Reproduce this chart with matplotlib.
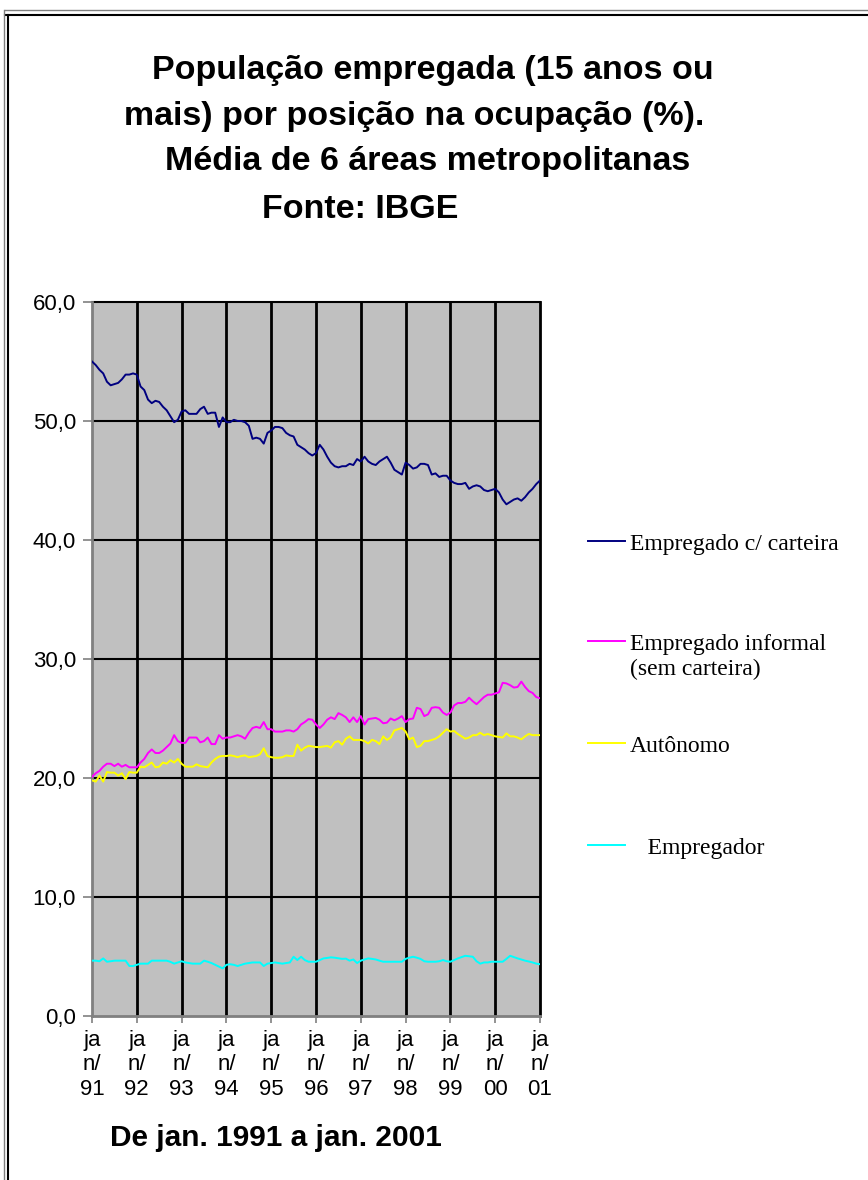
import matplotlib
matplotlib.use("Agg")
import matplotlib.pyplot as plt
from matplotlib.lines import Line2D

# meses de jan/91 a jan/01 (0..120)
meses = list(range(121))

carteira = [55.0, 54.7, 54.3, 54.0, 53.3, 53.0, 53.1, 53.2, 53.5, 53.9, 53.9, 54.0,
            53.9, 52.9, 52.6, 51.8, 51.5, 51.7, 51.6, 51.2, 50.9, 50.4, 49.9, 50.1,
            50.8, 50.9, 50.6, 50.6, 50.6, 51.0, 51.2, 50.6, 50.7, 50.7, 49.5, 50.3,
            49.9, 49.9, 50.1, 50.0, 50.0, 49.9, 49.6, 48.5, 48.6, 48.5, 48.1, 49.0,
            49.2, 49.5, 49.5, 49.4, 49.0, 48.8, 48.7, 48.0, 47.8, 47.6, 47.3, 47.1,
            47.3, 48.0, 47.6, 47.0, 46.5, 46.2, 46.1, 46.2, 46.2, 46.4, 46.3, 46.8,
            46.6, 47.0, 46.6, 46.4, 46.3, 46.6, 46.8, 47.0, 46.5, 45.9, 45.7, 45.5,
            46.5, 46.3, 46.0, 46.1, 46.4, 46.4, 46.3, 45.5, 45.6, 45.3, 45.4, 45.4,
            45.0, 44.8, 44.7, 44.7, 44.8, 44.3, 44.5, 44.6, 44.5, 44.2, 44.1, 44.2,
            44.3, 44.0, 43.4, 43.0, 43.2, 43.4, 43.5, 43.3, 43.6, 44.0, 44.3, 44.7,
            45.0]

informal = [20.1, 20.4, 20.6, 20.95, 21.2, 21.2, 21.0, 21.2, 20.95, 21.1, 20.9, 20.9,
            20.9, 21.3, 21.6, 22.1, 22.4, 22.1, 22.1, 22.3, 22.6, 22.9, 23.6, 23.1,
            22.95, 22.95, 23.4, 23.4, 23.4, 23.0, 23.1, 23.4, 22.85, 22.85, 23.6, 23.3,
            23.4, 23.4, 23.5, 23.6, 23.5, 23.3, 23.8, 24.2, 24.3, 24.2, 24.7, 24.1,
            24.1, 23.9, 23.9, 23.9, 24.0, 24.0, 23.9, 24.1, 24.5, 24.7, 24.95, 24.9,
            24.5, 24.2, 24.5, 24.9, 25.1, 24.95, 25.45, 25.3, 25.1, 24.7, 25.1, 24.7,
            25.2, 24.5, 24.95, 25.0, 25.05, 24.9, 24.6, 24.65, 25.0, 24.85, 25.0, 25.2,
            24.7, 24.95, 25.0, 25.9, 25.8, 25.2, 25.35, 25.9, 25.95, 25.9, 25.5, 25.3,
            25.5, 26.1, 26.3, 26.3, 26.4, 26.75, 26.45, 26.2, 26.5, 26.8, 27.0, 27.0,
            27.1, 27.2, 28.0, 27.95, 27.8, 27.6, 27.65, 28.1, 27.65, 27.3, 27.15, 26.8,
            26.7]

autonomo = [19.8, 19.7, 20.2, 19.7, 20.5, 20.45, 20.45, 20.2, 20.4, 19.9, 20.5, 20.45,
            20.45, 20.95, 20.9, 21.1, 21.3, 20.9, 20.95, 21.3, 21.2, 21.5, 21.3, 21.6,
            21.2, 20.95, 20.95, 20.95, 21.15, 21.0, 20.95, 20.9, 21.3, 21.6, 21.8, 21.85,
            21.85, 21.9, 21.85, 21.75, 21.85, 21.9, 21.75, 21.8, 21.85, 22.0, 22.5, 21.85,
            21.75, 21.7, 21.7, 21.75, 21.9, 21.85, 21.85, 22.8, 22.3, 22.55, 22.7, 22.65,
            22.6, 22.6, 22.65, 22.7, 22.55, 23.0, 23.1, 22.8, 23.3, 23.5, 23.2, 23.2,
            23.2, 23.1, 22.9, 23.2, 23.1, 22.85, 23.5, 23.2, 23.4, 24.0, 24.1, 24.2,
            23.9, 23.25, 23.4, 22.6, 22.7, 23.1, 23.1, 23.2, 23.3, 23.5, 23.8, 24.1,
            23.9, 23.95, 23.7, 23.5, 23.3, 23.4, 23.6, 23.6, 23.8, 23.6, 23.7, 23.6,
            23.5, 23.45, 23.4, 23.75, 23.5, 23.5, 23.4, 23.25, 23.5, 23.7, 23.6, 23.6,
            23.6]

empregador = [4.65, 4.65, 4.6, 4.84, 4.56, 4.6, 4.65, 4.65, 4.65, 4.65, 4.2, 4.2,
              4.3, 4.4, 4.4, 4.4, 4.65, 4.65, 4.65, 4.65, 4.65, 4.55, 4.4, 4.5,
              4.6, 4.5, 4.45, 4.4, 4.4, 4.4, 4.65, 4.56, 4.45, 4.3, 4.15, 4.0,
              4.3, 4.35, 4.3, 4.2, 4.3, 4.4, 4.45, 4.5, 4.5, 4.5, 4.2, 4.4,
              4.45, 4.5, 4.45, 4.4, 4.45, 4.5, 4.98, 4.7, 4.98, 4.7, 4.56, 4.56,
              4.56, 4.7, 4.84, 4.88, 4.93, 4.9, 4.85, 4.8, 4.82, 4.65, 4.75, 4.45,
              4.65, 4.75, 4.84, 4.8, 4.75, 4.65, 4.56, 4.56, 4.56, 4.56, 4.56, 4.56,
              4.8, 4.9, 4.98, 4.9, 4.8, 4.6, 4.56, 4.56, 4.56, 4.6, 4.7, 4.6,
              4.56, 4.7, 4.84, 4.95, 5.06, 5.02, 4.98, 4.6, 4.4, 4.5, 4.5, 4.56,
              4.56, 4.56, 4.56, 4.8, 5.06, 4.95, 4.84, 4.75, 4.65, 4.58, 4.5, 4.4,
              4.35]

series = [carteira, informal, autonomo, empregador]
rotulos = ["Empregado c/ carteira", "Empregado informal\n(sem carteira)",
           "Autônomo", "   Empregador"]
cores = ["#000080", "#ff00ff", "#ffff00", "#00ffff"]

anos = ["91", "92", "93", "94", "95", "96", "97", "98", "99", "00", "01"]
y_ticks = [0, 10, 20, 30, 40, 50, 60]

plt.rcParams['font.family'] = ['Liberation Sans', 'DejaVu Sans']

fig = plt.figure(figsize=(8.68, 11.8), dpi=100)
ax = fig.add_axes([92 / 868, 1 - 1016 / 1180, 448 / 868, 714 / 1180])
ax.set_facecolor("#c0c0c0")

# grade (o eixo 0 fica cinza)
for yv in y_ticks[1:]:
    ax.axhline(yv, color="black", lw=1.5, zorder=1, clip_on=False)
for xv in range(12, 121, 12):
    ax.axvline(xv, color="black", lw=2, zorder=1, clip_on=False)

for s, c in zip(series, cores):
    ax.plot(meses, s, color=c, lw=1.4, zorder=3)

ax.set_xlim(0, 120)
ax.set_ylim(0, 60)
ax.set_yticks(y_ticks)
ax.set_yticklabels([f"{v},0" for v in y_ticks], fontsize=16)
ax.set_xticks(range(0, 121, 12))
ax.set_xticklabels([f"ja\nn/\n{a}" for a in anos], fontsize=16, linespacing=1.22)
ax.tick_params(axis="y", length=6.5, width=1.2, color="#808080", pad=5)
ax.tick_params(axis="x", length=5, width=1.2, color="#808080", pad=5)
for sp in ["top", "right"]:
    ax.spines[sp].set_visible(False)
for sp in ["left", "bottom"]:
    ax.spines[sp].set_color("#808080")
    ax.spines[sp].set_linewidth(2)

# títulos
fig.text(152 / 868, 1 - 71 / 1180, "População empregada (15 anos ou",
         fontsize=24.5, fontweight="bold", va="center")
fig.text(124 / 868, 1 - 116 / 1180, "mais) por posição na ocupação (%).",
         fontsize=24.5, fontweight="bold", va="center")
fig.text(165 / 868, 1 - 162 / 1180, "Média de 6 áreas metropolitanas",
         fontsize=24.5, fontweight="bold", va="center")
fig.text(262 / 868, 1 - 209 / 1180, "Fonte: IBGE",
         fontsize=24.5, fontweight="bold", va="center")
fig.text(110 / 868, 1 - 1138 / 1180, "De jan. 1991 a jan. 2001",
         fontsize=21.5, fontweight="bold", va="center")

# legenda
leg_y = [541, 641, 743, 845]
for lab, c, yy in zip(rotulos, cores, leg_y):
    yf = 1 - yy / 1180
    fig.add_artist(Line2D([588 / 868, 625 / 868], [yf, yf], color=c, lw=1.4))
    fig.text(630 / 868, 1 - (yy - 7) / 1180, lab, fontsize=17, va="top",
             family=["Liberation Serif", "DejaVu Serif"], linespacing=1.22)

# moldura
fig.add_artist(Line2D([5 / 868, 1], [1 - 10 / 1180, 1 - 10 / 1180], color="#808080", lw=1))
fig.add_artist(Line2D([5 / 868, 1], [1 - 15 / 1180, 1 - 15 / 1180], color="black", lw=1.5))
fig.add_artist(Line2D([4 / 868, 4 / 868], [0, 1 - 10 / 1180], color="#808080", lw=1))
fig.add_artist(Line2D([8 / 868, 8 / 868], [0, 1 - 15 / 1180], color="black", lw=1.5))

fig.savefig("out.png", dpi=100)
